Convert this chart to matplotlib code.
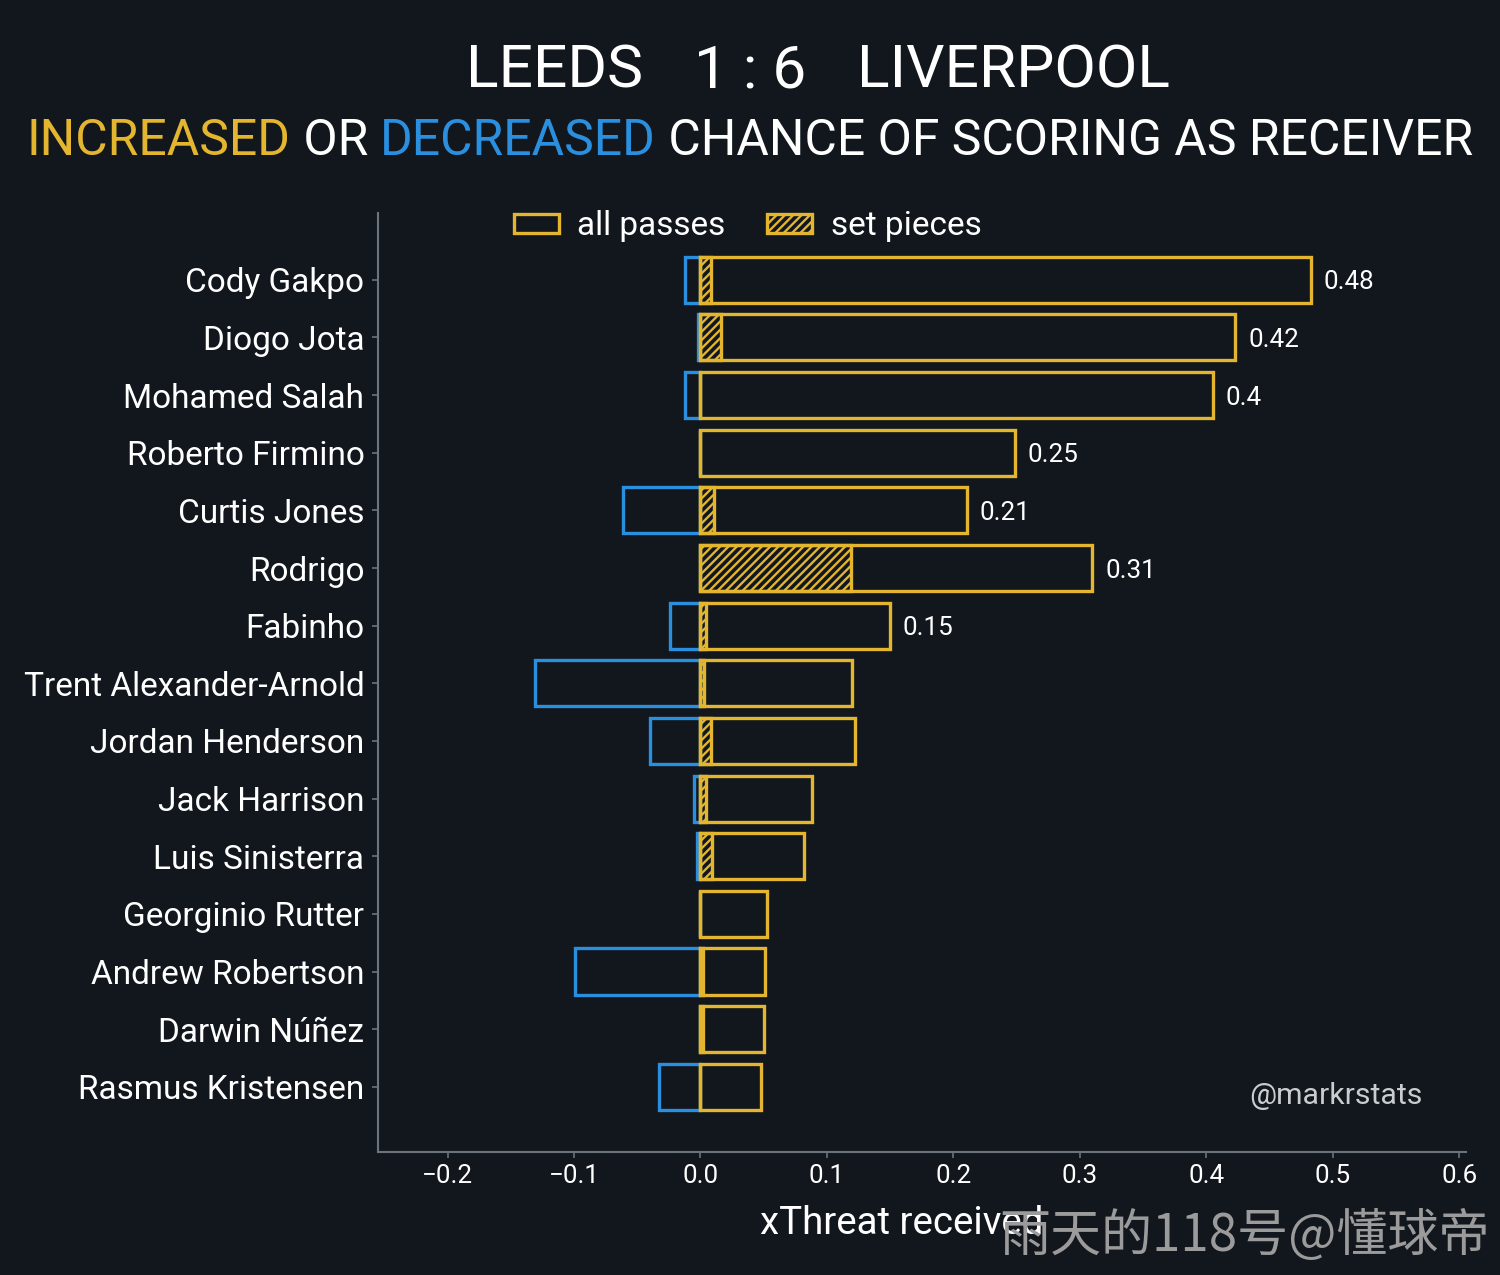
import numpy as np
import matplotlib.pyplot as plt
from matplotlib.patches import Patch

players = ["Cody Gakpo", "Diogo Jota", "Mohamed Salah", "Roberto Firmino",
           "Curtis Jones", "Rodrigo", "Fabinho", "Trent Alexander-Arnold",
           "Jordan Henderson", "Jack Harrison", "Luis Sinisterra",
           "Georginio Rutter", "Andrew Robertson", "Darwin Núñez",
           "Rasmus Kristensen"]
xt_pos = [0.483, 0.423, 0.405, 0.249, 0.211, 0.310, 0.150, 0.120,
          0.122, 0.088, 0.082, 0.053, 0.051, 0.050, 0.048]
xt_neg = [-0.0126, -0.0016, -0.0126, 0.0, -0.061, 0.0, -0.024, -0.131,
          -0.040, -0.0055, -0.003, 0.0, -0.099, 0.0, -0.033]
xt_set = [0.008, 0.016, 0.0, 0.0, 0.011, 0.119, 0.004, 0.003,
          0.008, 0.004, 0.009, 0.0, 0.002, 0.002, 0.0]
labels = ["0.48", "0.42", "0.4", "0.25", "0.21", "0.31", "0.15"]

BG = "#11171d"
YEL = "#e4b630"
BLU = "#2b8fe0"
GRID = "#6b747b"
HATCH = "//////"

plt.rcParams['font.family'] = ['Roboto', 'DejaVu Sans']
plt.rcParams['hatch.linewidth'] = 1.1

fig = plt.figure(figsize=(10, 8.5), dpi=150, facecolor=BG)
ax = fig.add_axes([0.252, 0.0965, 0.725, 0.7365])
ax.set_facecolor(BG)

y = np.arange(len(players))
ax.barh(y, xt_neg, height=0.8, facecolor="none", edgecolor=BLU, linewidth=1.6)
ax.barh(y, xt_pos, height=0.8, facecolor="none", edgecolor=YEL, linewidth=1.6)
ax.barh(y, xt_set, height=0.8, facecolor="none", edgecolor=YEL, linewidth=1.6,
        hatch=HATCH)

for i, lab in enumerate(labels):
    ax.text(xt_pos[i] + 0.01, y[i], lab, color="white", fontsize=12.5,
            va="center_baseline", ha="left")

ax.set_xlim(-0.255, 0.605)
ax.set_ylim(len(players) - 1 + 1.13, -1.16)
ax.set_yticks(y)
ax.set_yticklabels(players, fontsize=16, color="white")
ticks = np.arange(-0.2, 0.61, 0.1)
ax.set_xticks(ticks)
ax.set_xticklabels([f"{v:.1f}".replace("-", "\u2212") for v in ticks],
                   fontsize=12.5, color="white")
ax.tick_params(colors=GRID, length=3, width=0.8)
ax.tick_params(axis="y", labelcolor="white")
ax.tick_params(axis="x", labelcolor="white", pad=3)
for s in ["top", "right"]:
    ax.spines[s].set_visible(False)
for s in ["left", "bottom"]:
    ax.spines[s].set_color(GRID)
    ax.spines[s].set_linewidth(1.0)
ax.set_xlabel("xThreat received", color="white", fontsize=18.5, labelpad=8)
ax.xaxis.label.set_x(0.482)

handles = [Patch(facecolor="none", edgecolor=YEL, linewidth=1.6, label="all passes"),
           Patch(facecolor="none", edgecolor=YEL, linewidth=1.6, hatch=HATCH, label="set pieces")]
leg = ax.legend(handles=handles, loc="upper center", bbox_to_anchor=(0.34, 1.035),
                ncol=2, frameon=False, fontsize=16, labelcolor="white",
                handlelength=1.35, handleheight=0.5, handletextpad=0.55,
                columnspacing=1.25)

ax.text(0.961, 0.06, "@markrstats", transform=ax.transAxes, ha="right", va="center",
        color="#c9cdd0", fontsize=14.5)

# title: team names around the centered score
ty = 1 - 88 / 1275
fig.text(0.5, ty, "1 : 6", ha="center", va="baseline", color="white", fontsize=29)
fig.text(0.4287, ty, "LEEDS", ha="right", va="baseline", color="white", fontsize=29)
fig.text(0.5713, ty, "LIVERPOOL", ha="left", va="baseline", color="white", fontsize=29)

# multicolour subtitle, sized to span the reference width
parts = [("INCREASED", YEL), (" OR ", "white"), ("DECREASED", BLU),
         (" CHANCE OF SCORING AS RECEIVER", "white")]
renderer = fig.canvas.get_renderer()
sy = 1 - 155 / 1275
texts = [fig.text(0, sy, s, color=c, fontsize=26, va="baseline", ha="left")
         for s, c in parts]
total = sum(t.get_window_extent(renderer).width for t in texts)
fs = 26 * 1448 / total
for t in texts:
    t.set_fontsize(fs)
widths = [t.get_window_extent(renderer).width for t in texts]
xpix = (fig.bbox.width - sum(widths)) / 2
for t, w in zip(texts, widths):
    t.set_x(xpix / fig.bbox.width)
    xpix += w

fig.text(0.993, 0.03, "雨天的118号@懂球帝", ha="right", va="center", color="#9b9b9b",
         fontsize=24.5, family=['Noto Sans CJK SC', 'DejaVu Sans'])

fig.savefig("out.png", dpi=150, facecolor=BG)
